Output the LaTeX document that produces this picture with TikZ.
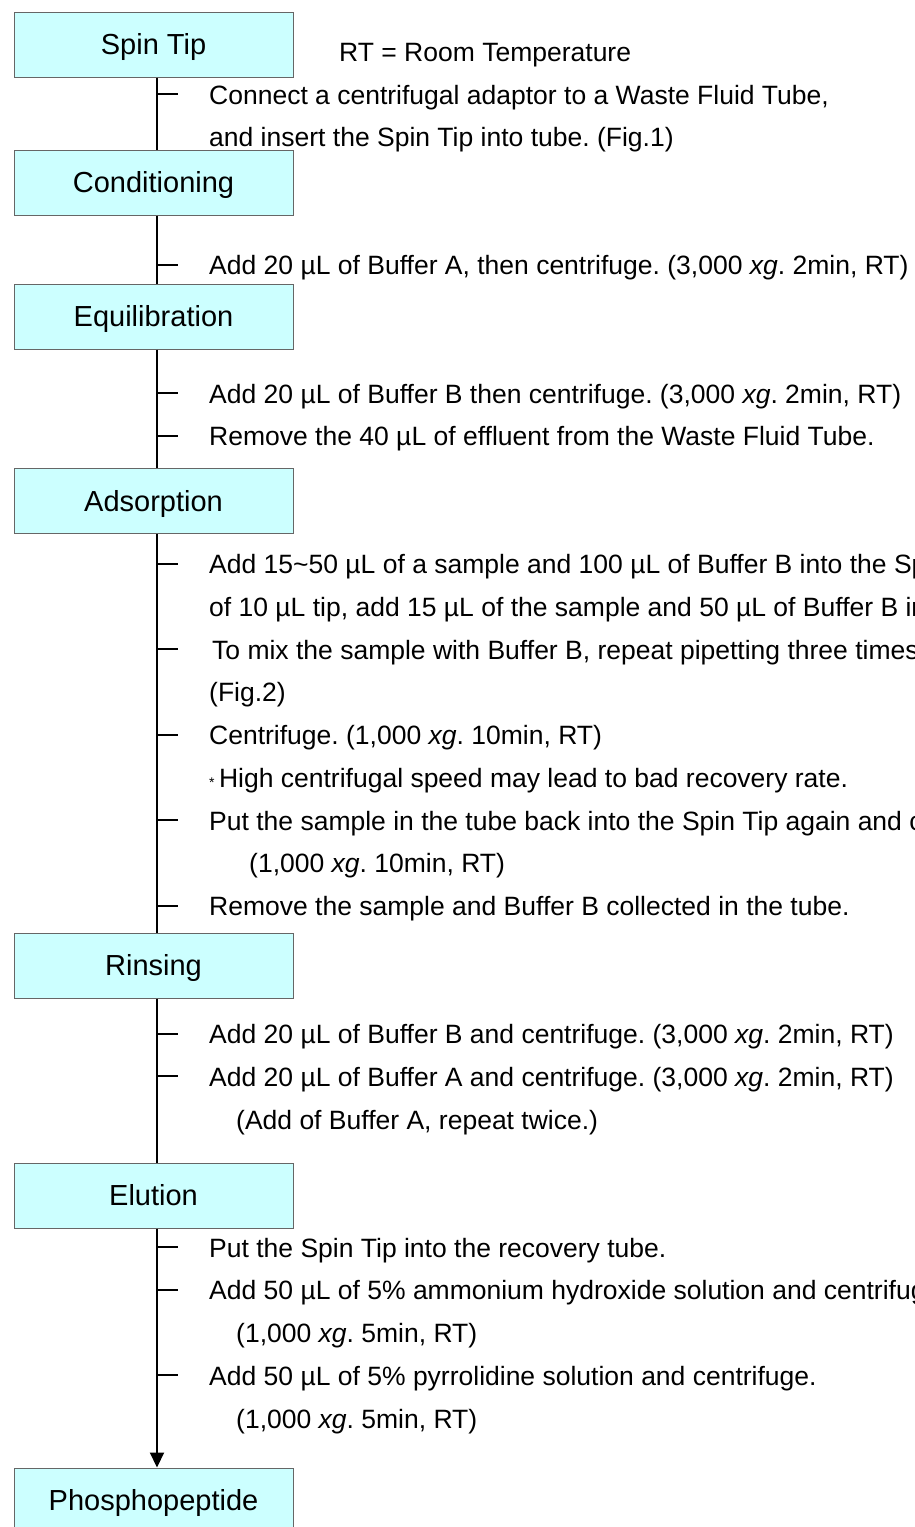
\documentclass[tikz,border=0pt]{standalone}
\usepackage{fontspec}
\setmainfont{Liberation Sans}
\usetikzlibrary{arrows.meta}
\definecolor{boxcyan}{HTML}{CCFFFF}
\frenchspacing

\begin{document}
\begin{tikzpicture}[x=1pt,y=-1pt,
stepbox/.style={draw=black!60, line width=1pt, fill=boxcyan, minimum width=279pt, minimum height=65pt,
  inner sep=0pt, font=\fontsize{29}{29}\selectfont, text height=20.8pt, text depth=0pt},
note/.style={anchor=base west, inner sep=0pt, font=\fontsize{26.5}{26.5}\selectfont},
spine/.style={line width=2pt},]
\useasboundingbox (0,0) rectangle (914,1527);
\clip (0,0) rectangle (914,1527);

% the steps
\node[stepbox] (spintip) at (153.5,44.5) {Spin Tip};
\node[stepbox] (cond) at (153.5,182.5) {Conditioning};
\node[stepbox] (equil) at (153.5,316.5) {Equilibration};
\node[stepbox] (adsorp) at (153.5,501) {Adsorption};
\node[stepbox] (rinse) at (153.5,965.5) {Rinsing};
\node[stepbox] (elute) at (153.5,1195.5) {Elution};
\node[stepbox] (phospho) at (153.5,1500.5) {Phosphopeptide};

\coordinate (spinex) at (157,0);
\draw[spine] (spintip.south -| spinex) -- (cond.north -| spinex);
\draw[spine] (cond.south -| spinex) -- (equil.north -| spinex);
\draw[spine] (equil.south -| spinex) -- (adsorp.north -| spinex);
\draw[spine] (adsorp.south -| spinex) -- (rinse.north -| spinex);
\draw[spine] (rinse.south -| spinex) -- (elute.north -| spinex);
\draw[spine,-{Triangle[length=15pt,width=14pt]}] (elute.south -| spinex) -- (phospho.north -| spinex);

% ticks
\foreach \r in {0,4,7,8,11,13,15,17,19,22,23,27,28,30}
  \draw[spine] (157,{94+42.71*\r}) -- ++(21,0);

% notes
\node[note] (rt) at (339,61.5) {RT = Room Temperature};
\node[note] (t0) at (209,104) {Connect a centrifugal adaptor to a Waste Fluid Tube,};
\node[note] (t1) at (209,146.7) {and insert the Spin Tip into tube. (Fig.1)};
\node[note] (t4) at (209,274.8) {Add 20 µL of Buffer A, then centrifuge. (3,000 \textit{xg}. 2min, RT)};
\node[note] (t7) at (209,403) {Add 20 µL of Buffer B then centrifuge. (3,000 \textit{xg}. 2min, RT)};
\node[note] (t8) at (209,445.7) {Remove the 40 µL of effluent from the Waste Fluid Tube.};
\node[note] (t11) at (209,573.8) {Add 15\textasciitilde50 µL of a sample and 100 µL of Buffer B into the Spin Tip.};
\node[note] (t12) at (209,616.5) {of 10 µL tip, add 15 µL of the sample and 50 µL of Buffer B into};
\node[note] (t13) at (212,659.2) {To mix the sample with Buffer B, repeat pipetting three times.};
\node[note] (t14) at (209,701.9) {(Fig.2)};
\node[note] (t15) at (209,744.7) {Centrifuge. (1,000 \textit{xg}. 10min, RT)};
\node[note] (t16) at (209,787.4) {{\fontsize{14}{14}\selectfont *}\,High centrifugal speed may lead to bad recovery rate.};
\node[note] (t17) at (209,830.1) {Put the sample in the tube back into the Spin Tip again and centrifuge.};
\node[note] (t18) at (249,872.8) {(1,000 \textit{xg}. 10min, RT)};
\node[note] (t19) at (209,915.5) {Remove the sample and Buffer B collected in the tube.};
\node[note] (t22) at (209,1043.6) {Add 20 µL of Buffer B and centrifuge. (3,000 \textit{xg}. 2min, RT)};
\node[note] (t23) at (209,1086.3) {Add 20 µL of Buffer A and centrifuge. (3,000 \textit{xg}. 2min, RT)};
\node[note] (t24) at (236,1129) {(Add of Buffer A, repeat twice.)};
\node[note] (t27) at (209,1257.2) {Put the Spin Tip into the recovery tube.};
\node[note] (t28) at (209,1299.9) {Add 50 µL of 5\% ammonium hydroxide solution and centrifuge.};
\node[note] (t29) at (236,1342.6) {(1,000 \textit{xg}. 5min, RT)};
\node[note] (t30) at (209,1385.3) {Add 50 µL of 5\% pyrrolidine solution and centrifuge.};
\node[note] (t31) at (236,1428) {(1,000 \textit{xg}. 5min, RT)};
\end{tikzpicture}
\end{document}
